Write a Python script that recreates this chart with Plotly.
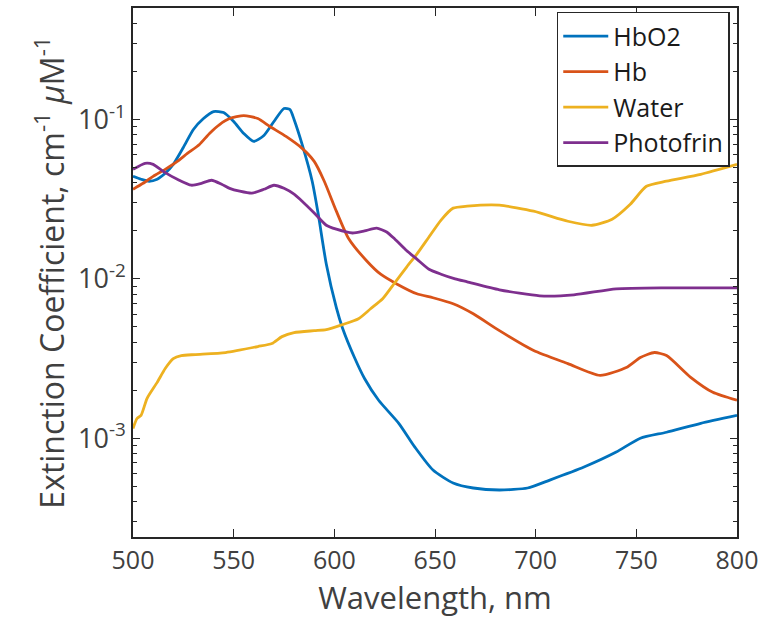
import plotly.graph_objects as go

# ---- data ----
hbo2_nm = [500, 504, 508, 512, 516, 520, 525, 530, 535, 540, 545, 550, 555, 560, 565, 570, 575, 578,
           580, 584, 589, 592, 596, 601, 604, 610, 615, 622, 632, 640, 649, 659, 669, 682, 696, 707,
           724, 740, 752, 765, 782, 800]
hbo2_val = [0.0440, 0.0422, 0.0410, 0.0422, 0.0460, 0.0523, 0.0668, 0.0866, 0.1014, 0.1122, 0.1106,
            0.0972, 0.0818, 0.0729, 0.0794, 0.0972, 0.1172, 0.1155, 0.100, 0.0698, 0.0410, 0.0255,
            0.0124, 0.00659, 0.00494, 0.00321, 0.00237, 0.00173, 0.00124, 0.000879, 0.000631,
            0.000524, 0.000487, 0.000473, 0.000487, 0.000546, 0.000659, 0.000818, 0.00100, 0.00109,
            0.00124, 0.00139]

hb_nm = [500, 505, 510, 516, 522, 527, 533, 538, 543, 548, 555, 562, 568, 576, 584, 590, 595, 601,
         607, 616, 623, 631, 641, 649, 659, 669, 682, 699, 716, 732, 745, 752, 759, 765, 777, 788, 800]
hb_val = [0.0365, 0.0398, 0.0440, 0.0487, 0.0546, 0.0613, 0.0698, 0.0818, 0.0930, 0.1014, 0.1059,
          0.1014, 0.0904, 0.0783, 0.0659, 0.0546, 0.0410, 0.0266, 0.0180, 0.0130, 0.0107, 0.00930,
          0.00806, 0.00761, 0.00698, 0.00604, 0.00473, 0.00355, 0.00294, 0.00248, 0.00278, 0.00321,
          0.00345, 0.00330, 0.00241, 0.00194, 0.00173]

water_nm = [500, 502, 504, 507, 512, 516, 520, 524, 531, 546, 562, 569, 574, 580, 590, 596, 604, 612,
            618, 624, 630, 636, 641, 647, 653, 659, 666, 682, 699, 716, 728, 738, 747, 755, 765, 782, 800]
water_val = [0.00115, 0.00133, 0.00139, 0.00178, 0.00224, 0.00274, 0.00316, 0.00330, 0.00335, 0.00345,
             0.00376, 0.00393, 0.00434, 0.00460, 0.00473, 0.00480, 0.00516, 0.00562, 0.00649, 0.00750,
             0.00944, 0.0119, 0.0143, 0.0183, 0.0234, 0.0278, 0.0286, 0.0290, 0.0266, 0.0230, 0.0217,
             0.0237, 0.0294, 0.0381, 0.0410, 0.0453, 0.0523]

photo_nm = [500, 506, 510, 515, 522, 529, 534, 539, 544, 548, 553, 559, 565, 570, 575, 580, 584, 590,
            596, 601, 609, 615, 621, 626, 630, 636, 641, 647, 653, 660, 666, 682, 702, 719, 740, 765, 800]
photo_val = [0.0487, 0.0531, 0.0523, 0.0473, 0.0422, 0.0387, 0.0398, 0.0416, 0.0393, 0.0370, 0.0355,
             0.0345, 0.0365, 0.0387, 0.0370, 0.0340, 0.0307, 0.0259, 0.0217, 0.0205, 0.0194, 0.0200,
             0.0208, 0.0197, 0.0178, 0.0150, 0.0133, 0.0115, 0.0107, 0.0100, 0.00958, 0.00854, 0.00783,
             0.00794, 0.00866, 0.00879, 0.00879]

series_names = ["HbO2", "Hb", "Water", "Photofrin"]
series_colors = ["#0072BD", "#D95319", "#EDB120", "#7E2F8E"]

x_tick_vals = [500, 550, 600, 650, 700, 750, 800]
y_tick_vals = [1e-3, 1e-2, 1e-1]
y_tick_text = ["10<sup>-3</sup>", "10<sup>-2</sup>", "10<sup>-1</sup>"]
y_minor_vals = [m * 10.0 ** e for e in (-4, -3, -2, -1) for m in range(2, 10)]

fig = go.Figure()
for name, xs, ys, col in zip(series_names,
                             [hbo2_nm, hb_nm, water_nm, photo_nm],
                             [hbo2_val, hb_val, water_val, photo_val],
                             series_colors):
    fig.add_trace(go.Scatter(x=xs, y=ys, name=name, mode="lines",
                             line=dict(color=col, width=2.8, shape="spline", smoothing=0.6)))

axis_col = "#262626"
fig.update_layout(
    width=766, height=626,
    margin=dict(l=133, r=29, t=6, b=89),
    paper_bgcolor="white", plot_bgcolor="white",
    font=dict(family="Open Sans", color="#404040"),
    showlegend=True,
    legend=dict(x=0.988, y=0.9925, xanchor="right", yanchor="top",
                bgcolor="white", bordercolor=axis_col, borderwidth=1.5,
                font=dict(size=25, color="#1a1a1a"), tracegroupgap=0, itemwidth=45),
    xaxis=dict(range=[500, 800], tickvals=x_tick_vals, ticks="inside", ticklen=8,
               tickwidth=1.2, tickcolor=axis_col, showline=True, linecolor=axis_col,
               linewidth=1.5, mirror="ticks", showgrid=False, zeroline=False,
               tickfont=dict(size=25, color="#404040"),
               title=dict(text="Wavelength, nm", font=dict(size=31, color="#404040"), standoff=4)),
    yaxis=dict(type="log", range=[-3.62, -0.30], tickvals=y_tick_vals, ticktext=y_tick_text,
               ticks="inside", ticklen=7, tickwidth=1.2, tickcolor=axis_col, showline=True,
               linecolor=axis_col, linewidth=1.5, mirror="ticks", showgrid=False, zeroline=False,
               tickfont=dict(size=27, color="#404040"),
               minor=dict(tickvals=y_minor_vals, ticks="inside", ticklen=4, tickcolor=axis_col,
                          tickwidth=1, showgrid=False),
               title=dict(text="Extinction Coefficient, cm<sup>-1</sup> <i>μ</i>M<sup>-1</sup>",
                          font=dict(size=32, color="#404040"), standoff=4)),
)

fig.write_html("out.html")
